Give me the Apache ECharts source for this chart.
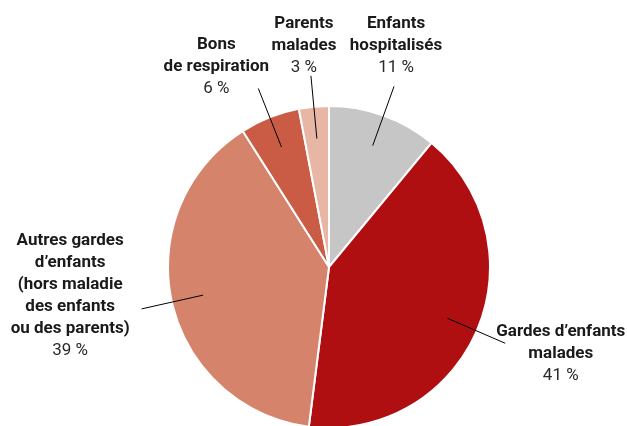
<!DOCTYPE html>
<html>
<head>
<meta charset="utf-8">
<title>Répartition</title>
<script src="https://cdn.jsdelivr.net/npm/echarts@6/dist/echarts.min.js"></script>
<style>
    html, body { margin: 0; padding: 0; background: #fff; }
    #chart { width: 627px; height: 426px; }
</style>
</head>
<body>
<div id="chart"></div>
<script>
/* globals echarts */
;(function (window) {
    'use strict';

    // Data, clockwise from 12 o'clock
    var categories = [
        'Enfants\nhospitalisés',
        'Gardes d’enfants\nmalades',
        'Autres gardes\nd’enfants\n(hors maladie\ndes enfants\nou des parents)',
        'Bons\nde respiration',
        'Parents\nmalades'
    ];
    var shares = [11, 41, 39, 6, 3];

    // Styles
    var sliceColors = ['#c6c6c6', '#b00f12', '#d6836b', '#ca5c45', '#e8b6a5'];

    // Where each label block sits relative to the end of its leader line
    var labelPlacement = [
        { anchor: 'center', dx: 2,   dy: -41 },
        { anchor: 'left',   dx: -9,  dy: 10 },
        { anchor: 'right',  dx: -12, dy: -13 },
        { anchor: 'center', dx: -42, dy: -22 },
        { anchor: 'center', dx: -7,  dy: -30 }
    ];

    var pieCenter = [329, 267];
    var pieRadius = 161;

    var data = categories.map(function (name, i) {
        return { name: name, value: shares[i], itemStyle: { color: sliceColors[i] } };
    });

    var chart = echarts.init(document.getElementById('chart'), null, { renderer: 'canvas' });

    chart.setOption({
        backgroundColor: '#fff',
        animation: false,
        textStyle: { fontFamily: 'Roboto' },
        series: [
            {
                type: 'pie',
                silent: true,
                z: 2,
                center: pieCenter,
                radius: [0, pieRadius],
                startAngle: 90,
                clockwise: true,
                itemStyle: { borderColor: '#fff', borderWidth: 2 },
                label: { show: false },
                labelLine: { show: false },
                data: data
            },
            {
                // invisible inner ring: carries the labels and leader lines
                type: 'pie',
                silent: true,
                z: 5,
                center: pieCenter,
                radius: [0, 129],
                startAngle: 90,
                clockwise: true,
                avoidLabelOverlap: false,
                itemStyle: { color: 'rgba(0,0,0,0)', borderWidth: 0 },
                label: {
                    show: true,
                    position: 'outside',
                    formatter: function (p) {
                        return '{b|' + p.name + '}\n{p|' + p.value + ' %}';
                    },
                    rich: {
                        b: { fontFamily: 'Roboto', fontSize: 17, fontWeight: 'bold', color: '#1a1a1a', lineHeight: 22 },
                        p: { fontFamily: 'Roboto', fontSize: 17, fontWeight: 'normal', color: '#2a2a2a', lineHeight: 22 }
                    }
                },
                labelLine: {
                    show: true,
                    length: 63,
                    length2: 0,
                    smooth: false,
                    lineStyle: { color: '#000', width: 1 }
                },
                labelLayout: function (params) {
                    var pts = params.labelLinePoints;
                    if (!pts) {
                        return {};
                    }
                    var end = pts[pts.length - 1];
                    var place = labelPlacement[params.dataIndex];
                    var w = params.labelRect.width;
                    var x = end[0] + place.dx;
                    if (place.anchor === 'left') {
                        x += w / 2;
                    } else if (place.anchor === 'right') {
                        x -= w / 2;
                    }
                    return {
                        x: x,
                        y: end[1] + place.dy,
                        align: 'center',
                        verticalAlign: 'middle',
                        labelLinePoints: pts
                    };
                },
                data: data.map(function (d) {
                    return { name: d.name, value: d.value };
                })
            }
        ]
    });

    window.addEventListener('resize', function () {
        chart.resize();
    });

}(window));
</script>
</body>
</html>
